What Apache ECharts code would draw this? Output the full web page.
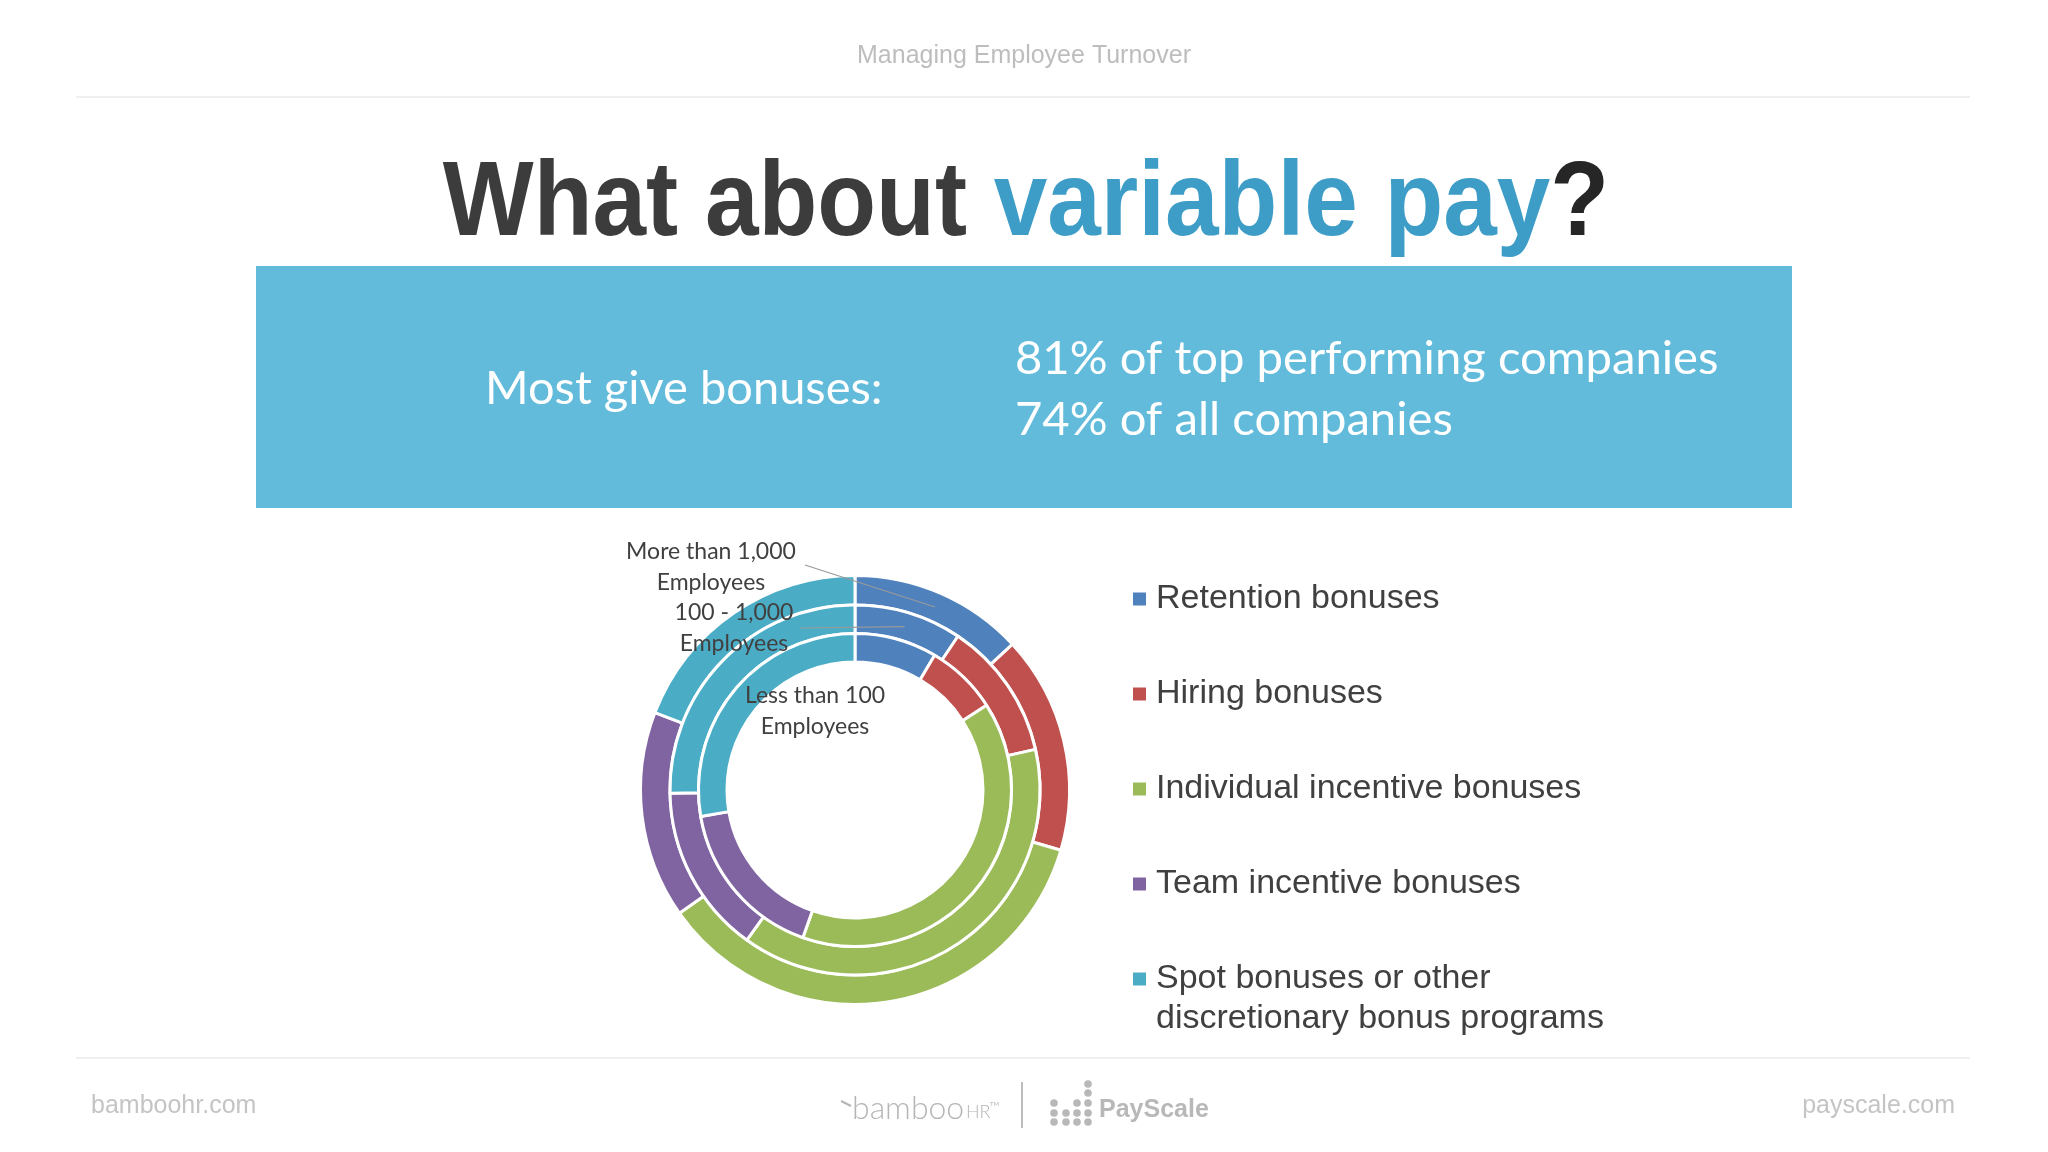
<!DOCTYPE html>
<html><head><meta charset="utf-8">
<script src="https://cdn.jsdelivr.net/npm/echarts@6/dist/echarts.min.js"></script>
<style>html,body{margin:0;padding:0;background:#fff}#c{width:2048px;height:1152px}</style>
</head><body><div id="c"></div>
<script>
// ---- data ----
const categories = ['Retention bonuses', 'Hiring bonuses', 'Individual incentive bonuses', 'Team incentive bonuses', 'Spot bonuses or other discretionary bonus programs'];
const ringNames = ['More than 1,000\nEmployees', '100 - 1,000\nEmployees', 'Less than 100\nEmployees'];
const moreThan1000 = [13.1, 16.4, 35.7, 15.6, 19.1];
const from100to1000 = [9.4, 12.1, 38.5, 14.8, 25.3];
const lessThan100 = [8.5, 7.4, 39.5, 16.9, 27.7];
const headerText = 'Managing Employee Turnover';
const bannerLeft = 'Most give bonuses:';
const bannerRight = ['81% of top performing companies', '74% of all companies'];

// ---- styles ----
const colors = ['#4f81bd', '#c0504d', '#9bbb59', '#8064a2', '#4bacc6'];
const CENTER = [855, 790];
const rings = [
  { name: ringNames[0], values: moreThan1000, radius: [185, 214.5], label: [711, 567], lineFrom: [805, 565] },
  { name: ringNames[1], values: from100to1000, radius: [156.5, 185], label: [734, 628], lineFrom: [800, 628] },
  { name: ringNames[2], values: lessThan100, radius: [128, 156.5], label: [815, 711], lineFrom: null }
];

const chart = echarts.init(document.getElementById('c'), null, { renderer: 'canvas' });

function baseGraphics() {
  const g = [];
  // header
  g.push({ type: 'text', x: 1024, y: 56, style: { text: headerText, fontFamily: 'Liberation Sans', fontSize: 25, fill: '#bdbdbd', align: 'center', verticalAlign: 'middle' } });
  g.push({ type: 'line', shape: { x1: 76, y1: 97, x2: 1970, y2: 97 }, style: { stroke: '#efefef', lineWidth: 2 } });
  // title
  g.push({ type: 'text', x: 1026, y: 206, scaleX: 0.917, style: {
    text: '{a|What about }{b|variable pay}{c|?}', align: 'center', verticalAlign: 'middle',
    fontFamily: 'Liberation Sans', fontWeight: 'bold', fontSize: 105,
    rich: {
      a: { fontFamily: 'Liberation Sans', fontWeight: 'bold', fontSize: 105, fill: '#3c3c3c' },
      b: { fontFamily: 'Liberation Sans', fontWeight: 'bold', fontSize: 105, fill: '#3d9dc7' },
      c: { fontFamily: 'Liberation Sans', fontWeight: 'bold', fontSize: 105, fill: '#262626' }
    } } });
  // banner
  g.push({ type: 'rect', shape: { x: 256, y: 266, width: 1536, height: 242 }, style: { fill: '#62bbdb' } });
  g.push({ type: 'text', x: 485, y: 389, style: { text: bannerLeft, fontFamily: 'Lato', fontSize: 47, fill: '#ffffff', align: 'left', verticalAlign: 'middle' } });
  g.push({ type: 'text', x: 1015, y: 389, style: { text: bannerRight.join('\n'), fontFamily: 'Lato', fontSize: 47.2, lineHeight: 61, fill: '#ffffff', align: 'left', verticalAlign: 'middle' } });
  // footer
  g.push({ type: 'line', shape: { x1: 76, y1: 1058, x2: 1970, y2: 1058 }, style: { stroke: '#efefef', lineWidth: 2 } });
  g.push({ type: 'text', x: 91, y: 1106, style: { text: 'bamboohr.com', fontFamily: 'Liberation Sans', fontSize: 25, fill: '#c4c4c4', align: 'left', verticalAlign: 'middle' } });
  g.push({ type: 'text', x: 1955, y: 1106, style: { text: 'payscale.com', fontFamily: 'Liberation Sans', fontSize: 25, fill: '#c4c4c4', align: 'right', verticalAlign: 'middle' } });
  // bambooHR logo
  g.push({ type: 'line', shape: { x1: 841, y1: 1101, x2: 851, y2: 1106 }, style: { stroke: '#b5b5b5', lineWidth: 2 } });
  g.push({ type: 'text', x: 852, y: 1109, style: { text: 'bamboo', fontFamily: 'Lato', fontWeight: 300, fontSize: 32, fill: '#b5b5b5', align: 'left', verticalAlign: 'middle' } });
  g.push({ type: 'text', x: 966, y: 1112, style: { text: 'HR', fontFamily: 'Lato', fontWeight: 300, fontSize: 18, fill: '#b5b5b5', align: 'left', verticalAlign: 'middle' } });
  g.push({ type: 'text', x: 990, y: 1104, style: { text: 'TM', fontFamily: 'Lato', fontSize: 6, fill: '#b5b5b5', align: 'left', verticalAlign: 'middle' } });
  g.push({ type: 'line', shape: { x1: 1022, y1: 1082, x2: 1022, y2: 1128 }, style: { stroke: '#bdbdbd', lineWidth: 2 } });
  // PayScale logo dots
  const dotCols = [1054, 1066, 1077, 1088];
  const dotRows = [1084, 1093, 1103, 1113, 1122];
  const dotPattern = [[2, 3, 4], [3, 4], [2, 3, 4], [0, 1, 2, 3, 4]];
  dotPattern.forEach((rows, ci) => rows.forEach(ri => g.push({ type: 'circle', shape: { cx: dotCols[ci], cy: dotRows[ri], r: 3.8 }, style: { fill: '#b8b8b8' } })));
  g.push({ type: 'text', x: 1099, y: 1110, style: { text: 'PayScale', fontFamily: 'Liberation Sans', fontWeight: 'bold', fontSize: 25, fill: '#b8b8b8', align: 'left', verticalAlign: 'middle' } });
  return g;
}

// legend entries: the two-line entry keeps its marker beside its first line
const legendData = categories.map((c, j) => ({
  name: c,
  textStyle: { padding: j === 4 ? [0, 0, 0, 4] : [40, 0, 40, 4], backgroundColor: 'rgba(255,255,255,0)' }
}));

const option = {
  backgroundColor: '#ffffff',
  animation: false,
  legend: {
    data: legendData,
    orient: 'vertical',
    left: 1131, top: 539, padding: 0,
    itemGap: -25, itemWidth: 15, itemHeight: 15, icon: 'rect',
    selectedMode: false,
    formatter: n => n === categories[4] ? '\nSpot bonuses or other\ndiscretionary bonus programs' : n,
    textStyle: { fontFamily: 'Liberation Sans', fontSize: 34, lineHeight: 40, color: '#404040' }
  },
  graphic: baseGraphics(),
  series: rings.map(r => ({
    type: 'pie', name: r.name, radius: r.radius, center: CENTER,
    startAngle: 90, clockwise: true, silent: true, avoidLabelOverlap: false,
    itemStyle: { borderColor: '#ffffff', borderWidth: 3 },
    label: { show: false },
    labelLine: { show: false },
    emphasis: { disabled: true },
    data: categories.map((c, j) => ({
      name: c, value: r.values[j], itemStyle: { color: colors[j] },
      label: j === 0 ? { show: true, position: 'inside', rotate: 0, formatter: '{a}', color: '#404040', fontFamily: 'Lato', fontSize: 23, lineHeight: 31 } : { show: false }
    })),
    labelLayout: p => p.dataIndex === 0 ? { x: r.label[0], y: r.label[1], align: 'center', verticalAlign: 'middle' } : {}
  }))
};
chart.setOption(option);

// leader lines from labels to the slice centre, using the library's own pie layout
const g = baseGraphics();
rings.forEach((r, i) => {
  if (!r.lineFrom) return;
  const lay = chart.getModel().getSeriesByIndex(i).getData().getItemLayout(0);
  const a = (lay.startAngle + lay.endAngle) / 2;
  const rm = (lay.r + lay.r0) / 2;
  g.push({ type: 'line', z: 100, shape: { x1: r.lineFrom[0], y1: r.lineFrom[1], x2: lay.cx + rm * Math.cos(a), y2: lay.cy + rm * Math.sin(a) }, style: { stroke: '#9a9a9a', lineWidth: 1.2 } });
});
chart.setOption({ graphic: g });
</script></body></html>
